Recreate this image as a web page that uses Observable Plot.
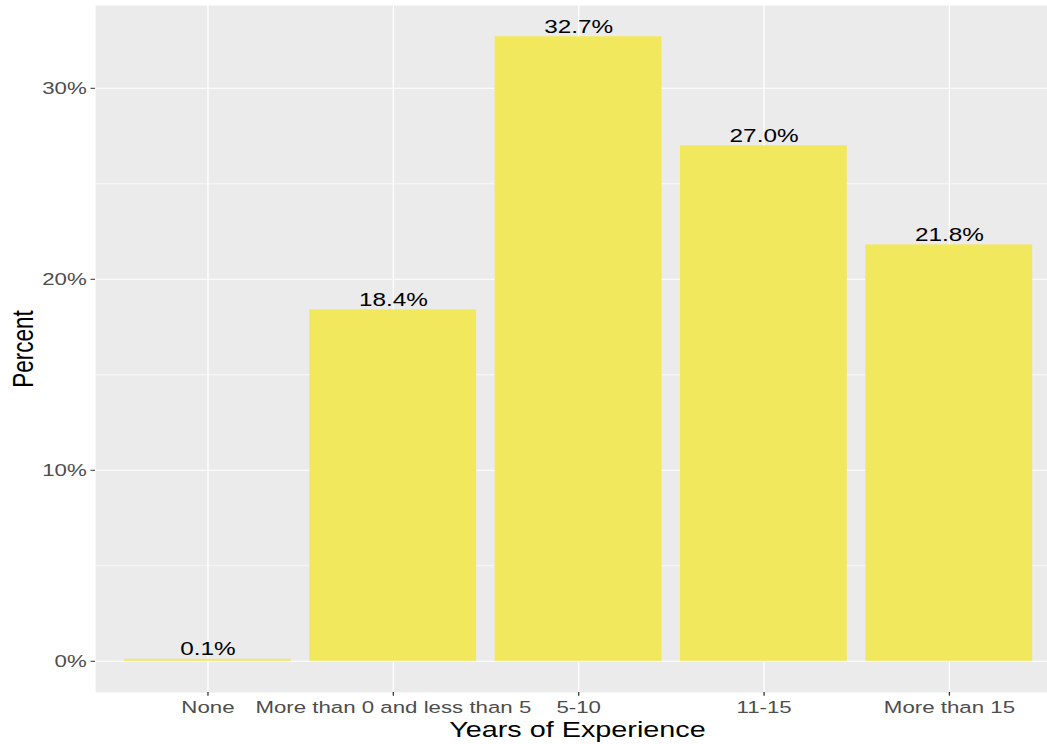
<!DOCTYPE html>
<html>
<head>
<meta charset="utf-8">
<script src="https://cdn.jsdelivr.net/npm/d3@7"></script>
<script src="https://cdn.jsdelivr.net/npm/@observablehq/plot@0.6"></script>
<style>
  html, body { margin: 0; padding: 0; background: #fff; overflow: hidden; }
</style>
</head>
<body>
<div id="chart"></div>
<script>
// ---- data ----
const categories = ["None", "More than 0 and less than 5", "5-10", "11-15", "More than 15"];
const percents = [0.1, 18.4, 32.7, 27.0, 21.8];
const yTicks = [0, 10, 20, 30];
const yTickLabels = ["0%", "10%", "20%", "30%"];
const yMinorTicks = [5, 15, 25];
const xTitle = "Years of Experience";
const yTitle = "Percent";

const data = categories.map((c, i) => ({
  category: c,
  percent: percents[i],
  label: percents[i].toFixed(1) + "%"
}));

// ---- layout (reference is drawn horizontally stretched) ----
const SX = 1.28;
const outW = 1047, outH = 744;
const viewW = outW / SX;
const font = "'Liberation Sans', Arial, sans-serif";

const chart = Plot.plot({
  width: 829,
  height: outH,
  marginLeft: 95 / SX,
  marginRight: 0,
  marginTop: 5,
  marginBottom: 52,
  style: { fontFamily: font, background: "white", overflow: "hidden" },
  x: { type: "band", domain: categories, paddingInner: 0.1, paddingOuter: 0.156, round: false, align: 0.5 },
  y: { domain: [-1.635, 34.335] },
  marks: [
    Plot.frame({ fill: "#EBEBEB", stroke: null }),
    Plot.ruleY(yMinorTicks, { stroke: "white", strokeWidth: 0.6 }),
    Plot.ruleY(yTicks, { stroke: "white", strokeWidth: 1.15 }),
    Plot.ruleX(categories, { stroke: "white", strokeWidth: 1.0 }),
    Plot.barY(data, { x: "category", y: "percent", fill: "#F2E85E" }),
    Plot.text(data, {
      x: "category", y: "percent", text: "label",
      lineAnchor: "bottom", dy: -4, fontSize: 19, fill: "black"
    }),
    Plot.axisX({
      tickSize: 3.7, tickPadding: 4.6, fontSize: 17.4, label: null,
      stroke: "#333333", fill: "#4D4D4D"
    }),
    Plot.axisY({
      ticks: yTicks, tickFormat: d => yTickLabels[yTicks.indexOf(d)],
      tickSize: 3.5, tickPadding: 3.5, fontSize: 17.4, label: null,
      stroke: "#333333", fill: "#4D4D4D"
    })
  ]
});

// stretch to reference proportions
chart.setAttribute("viewBox", `0 0 ${viewW} ${outH}`);
chart.setAttribute("width", outW);
chart.setAttribute("height", outH);
chart.setAttribute("preserveAspectRatio", "none");
chart.setAttribute("style", `display:block;width:${outW}px;height:${outH}px;max-width:none;background:white;font-family:${font};overflow:hidden`);

const svg = d3.select(chart);
svg.append("text")
  .attr("x", 577.5 / SX).attr("y", 737)
  .attr("text-anchor", "middle")
  .attr("font-size", 22.5)
  .attr("fill", "black")
  .text(xTitle);
svg.append("text")
  .attr("transform", `translate(${33 / SX},349) rotate(-90)`)
  .attr("text-anchor", "middle")
  .attr("font-size", 22.5)
  .attr("fill", "black")
  .text(yTitle);

document.getElementById("chart").appendChild(chart);
</script>
</body>
</html>
